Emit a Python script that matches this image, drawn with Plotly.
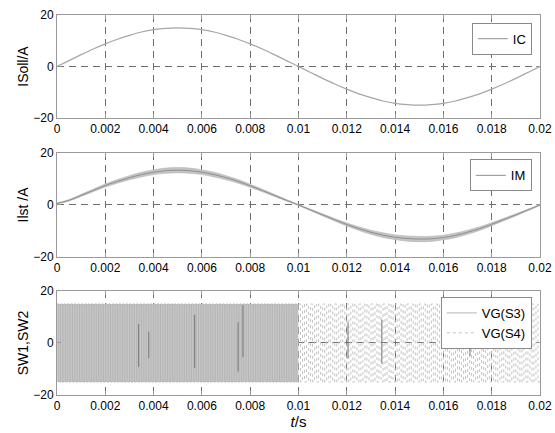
import numpy as np
import plotly.graph_objects as go

# ---------------- data ----------------
t = [0.0, 0.0005, 0.001, 0.0015, 0.002, 0.0025, 0.003, 0.0035, 0.004, 0.0045,
     0.005, 0.0055, 0.006, 0.0065, 0.007, 0.0075, 0.008, 0.0085, 0.009, 0.0095,
     0.01, 0.0105, 0.011, 0.0115, 0.012, 0.0125, 0.013, 0.0135, 0.014, 0.0145,
     0.015, 0.0155, 0.016, 0.0165, 0.017, 0.0175, 0.018, 0.0185, 0.019, 0.0195, 0.02]

ic = [0.0, 2.3, 4.6, 6.8, 8.8, 10.6, 12.1, 13.4, 14.3, 14.8,
      15.0, 14.8, 14.3, 13.4, 12.1, 10.6, 8.8, 6.8, 4.6, 2.3,
      0.0, -2.3, -4.6, -6.8, -8.8, -10.6, -12.1, -13.4, -14.3, -14.8,
      -15.0, -14.8, -14.3, -13.4, -12.1, -10.6, -8.8, -6.8, -4.6, -2.3, 0.0]

im = [0.6, 1.8, 3.7, 5.6, 7.5, 9.1, 10.5, 11.7, 12.6, 13.2,
      13.4, 13.2, 12.6, 11.7, 10.5, 9.1, 7.4, 5.6, 3.7, 1.8,
      0.0, -1.9, -3.8, -5.7, -7.5, -9.1, -10.5, -11.6, -12.4, -12.9,
      -13.1, -13.0, -12.5, -11.7, -10.5, -9.1, -7.4, -5.6, -3.8, -1.9, 0.0]

im_ripple = [0.2, 0.3, 0.4, 0.5, 0.6, 0.7, 0.8, 0.9, 0.9, 1.0,
             1.0, 1.0, 0.9, 0.9, 0.8, 0.7, 0.6, 0.5, 0.4, 0.3,
             0.2, 0.3, 0.4, 0.5, 0.6, 0.7, 0.8, 0.9, 0.9, 1.0,
             1.0, 1.0, 0.9, 0.9, 0.8, 0.7, 0.6, 0.5, 0.4, 0.3, 0.2]

# gate signals
sw_high, sw_low = 15, -15
s3_window = [0.0, 0.01]
s4_window = [0.01, 0.02]
s3_cycles = 70
s4_cycles = 60

# dark spikes seen on the gate traces: time, low, high
glitch_t = [0.00338, 0.0038, 0.0057, 0.0075, 0.0077, 0.01205, 0.01345, 0.0171]
glitch_lo = [-9.2, -5.8, -9.6, -11.0, -5.4, -6.0, -8.0, -5.0]
glitch_hi = [7.3, 4.4, 10.8, 8.0, 14.6, 8.0, 9.0, 6.0]

x_ticks = [0, 0.002, 0.004, 0.006, 0.008, 0.01, 0.012, 0.014, 0.016, 0.018, 0.02]
x_tick_text = ["0", "0.002", "0.004", "0.006", "0.008", "0.01", "0.012", "0.014", "0.016", "0.018", "0.02"]
y_ticks = [-20, 0, 20]
y_titles = ["ISoll/A", "Ilst /A", "SW1,SW2"]


def square_wave(window, cycles, hi, lo):
    edges = np.linspace(window[0], window[1], 2 * cycles + 1)
    xs, ys = [], []
    for k in range(2 * cycles):
        lvl = hi if k % 2 == 0 else lo
        xs += [edges[k], edges[k + 1]]
        ys += [lvl, lvl]
    return xs, ys


FONT = "Liberation Sans, Arial, sans-serif"
fig = go.Figure()

# panel 1
fig.add_trace(go.Scatter(x=t, y=ic, mode="lines", line=dict(color="#a6a6a6", width=1.2, shape="spline"),
                         name="IC", legend="legend", xaxis="x", yaxis="y"))

# panel 2 (ripple band + centre line)
upper = [a + r for a, r in zip(im, im_ripple)]
lower = [a - r for a, r in zip(im, im_ripple)]
fig.add_trace(go.Scatter(x=t, y=upper, mode="lines", line=dict(color="#b5b5b5", width=0.6, shape="spline"),
                         showlegend=False, hoverinfo="skip", xaxis="x2", yaxis="y2"))
fig.add_trace(go.Scatter(x=t, y=lower, mode="lines", line=dict(color="#b5b5b5", width=0.6, shape="spline"),
                         fill="tonexty", fillcolor="#c4c4c4", showlegend=False, hoverinfo="skip",
                         xaxis="x2", yaxis="y2"))
fig.add_trace(go.Scatter(x=t, y=im, mode="lines", line=dict(color="#8e8e8e", width=1, shape="spline"),
                         name="IM", legend="legend2", xaxis="x2", yaxis="y2"))

# panel 3
x3, y3 = square_wave(s3_window, s3_cycles, sw_high, sw_low)
x4, y4 = square_wave(s4_window, s4_cycles, sw_high, sw_low)
fig.add_trace(go.Scatter(x=[s3_window[0], s3_window[1], s3_window[1], s3_window[0]],
                         y=[sw_high, sw_high, sw_low, sw_low], fill="toself", fillcolor="#cdcdcd",
                         line=dict(width=0), mode="lines", showlegend=False, hoverinfo="skip",
                         xaxis="x3", yaxis="y3"))
fig.add_trace(go.Scatter(x=x3, y=y3, mode="lines", line=dict(color="#b4b4b4", width=1),
                         name="VG(S3)", legend="legend3", xaxis="x3", yaxis="y3"))
fig.add_trace(go.Scatter(x=x4, y=y4, mode="lines", line=dict(color="#c4c4c4", width=1, dash="3px,3px"),
                         name="VG(S4)", legend="legend3", xaxis="x3", yaxis="y3"))
gx, gy = [], []
for tt, lo, hi in zip(glitch_t, glitch_lo, glitch_hi):
    gx += [tt, tt, None]
    gy += [lo, hi, None]
fig.add_trace(go.Scatter(x=gx, y=gy, mode="lines", line=dict(color="#777777", width=1),
                         showlegend=False, hoverinfo="skip", xaxis="x3", yaxis="y3"))

axis_common = dict(showline=True, linecolor="#9a9a9a", linewidth=1, mirror="ticks",
                   ticks="inside", ticklen=4, tickcolor="#9a9a9a", automargin=False,
                   showgrid=True, gridcolor="#6e6e6e", gridwidth=1, griddash="7px,5px",
                   zeroline=False, tickfont=dict(family=FONT, size=12, color="#000"))

domains = [[0.7289, 1.0], [0.3632, 0.6368], [0.0, 0.2737]]
layout = dict(width=555, height=433, margin=dict(l=57, r=15, t=15, b=38),
              paper_bgcolor="white", plot_bgcolor="white",
              font=dict(family=FONT, size=12, color="#000"))
for i in range(3):
    sx = "" if i == 0 else str(i + 1)
    layout["xaxis" + sx] = dict(axis_common, range=[0, 0.02], tickvals=x_ticks, ticktext=x_tick_text,
                                anchor="y" + sx, domain=[0, 1])
    layout["yaxis" + sx] = dict(axis_common, range=[-20, 20], tickvals=y_ticks, anchor="x" + sx,
                                domain=domains[i],
                                title=dict(text=y_titles[i], font=dict(family=FONT, size=14), standoff=1))
layout["xaxis3"]["title"] = dict(text="<i>t</i>/s", font=dict(family=FONT, size=15), standoff=2)

leg_common = dict(bgcolor="white", bordercolor="#8a8a8a", borderwidth=1,
                  font=dict(family=FONT, size=13, color="#000"), xanchor="right", yanchor="top",
                  tracegroupgap=0, itemwidth=30)
layout["legend"] = dict(leg_common, x=0.983, y=0.98)
layout["legend2"] = dict(leg_common, x=0.983, y=0.62)
layout["legend3"] = dict(leg_common, x=0.983, y=0.258)

fig.update_layout(**layout)
fig.write_html("out.html")
